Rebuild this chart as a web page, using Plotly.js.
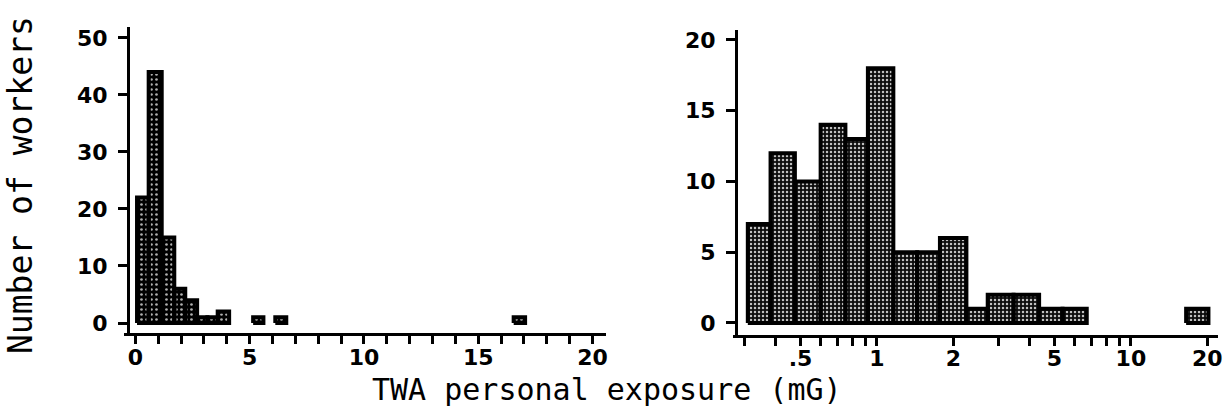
<!DOCTYPE html>
<html>
<head>
<meta charset="utf-8">
<script src="https://cdn.plot.ly/plotly-3.0.1.min.js"></script>
<style>html,body{margin:0;padding:0;background:#fff;}#chart{width:1225px;height:411px;}</style>
</head>
<body>
<div id="chart"></div>
<script>
// Left panel: linear exposure histogram (mG)
const leftBinStart = [0.07, 0.58, 1.15, 1.70, 2.18, 2.70, 3.15, 3.60, 5.15, 6.12, 16.55];
const leftBinEnd   = [0.58, 1.15, 1.70, 2.18, 2.70, 3.15, 3.60, 4.10, 5.60, 6.60, 17.05];
const leftCounts   = [22, 44, 15, 6, 4, 1, 1, 2, 1, 1, 1];

// Right panel: log-scale exposure histogram (mG)
const rightBinStart = [0.31, 0.381, 0.475, 0.600, 0.751, 0.921, 1.16, 1.44, 1.77, 2.25, 2.73, 3.45, 4.35, 5.38, 16.5];
const rightBinEnd   = [0.381, 0.475, 0.600, 0.751, 0.921, 1.16, 1.44, 1.77, 2.25, 2.73, 3.45, 4.35, 5.38, 6.70, 20.2];
const rightCounts   = [7, 12, 10, 14, 13, 18, 5, 5, 6, 1, 2, 2, 1, 1, 1];

// Tick labels
const leftXTickVals = [0,1,2,3,4,5,6,7,8,9,10,11,12,13,14,15,16,17,18,19,20];
const leftXTickText = ['0','','','','','5','','','','','10','','','','','15','','','','','20'];
const leftYTickVals = [0, 10, 20, 30, 40, 50];
const rightXTickVals = [0.3,0.4,0.5,0.6,0.7,0.8,0.9,1,2,3,4,5,6,7,8,9,10,20];
const rightXTickText = ['','','.5','','','','','1','2','','','5','','','','','10','20'];
const rightYTickVals = [0, 5, 10, 15, 20];

const yTitle = 'Number of workers';
const xTitle = 'TWA personal exposure (mG)';

function rects(starts, ends, counts) {
  const xs = [], ys = [];
  for (let i = 0; i < counts.length; i++) {
    xs.push(starts[i], starts[i], ends[i], ends[i], starts[i], null);
    ys.push(0, counts[i], counts[i], 0, 0, null);
  }
  return {x: xs, y: ys};
}

const L = rects(leftBinStart, leftBinEnd, leftCounts);
const R = rects(rightBinStart, rightBinEnd, rightCounts);

const traces = [
  {
    type: 'scatter', mode: 'lines', x: L.x, y: L.y, xaxis: 'x', yaxis: 'y',
    fill: 'toself', fillcolor: '#000',
    fillpattern: {shape: '.', bgcolor: '#000', fgcolor: '#b0b0b0', size: 5, solidity: 0.22},
    line: {color: '#000', width: 4}, hoverinfo: 'skip', showlegend: false
  },
  {
    type: 'scatter', mode: 'lines', x: R.x, y: R.y, xaxis: 'x2', yaxis: 'y2',
    fill: 'toself', fillcolor: '#111',
    fillpattern: {shape: '.', bgcolor: '#0c0c0c', fgcolor: '#c0c0c0', size: 4, solidity: 0.3},
    line: {color: '#000', width: 4}, hoverinfo: 'skip', showlegend: false
  }
];

const W = 1225, H = 411;
const tickFont = {family: 'DejaVu Sans', size: 22, color: '#000', weight: 'bold'};
const common = {showgrid: false, zeroline: false, showline: true, linecolor: '#000', linewidth: 3,
  ticks: 'outside', tickcolor: '#000', tickwidth: 3, tickfont: tickFont, fixedrange: true};

const layout = {
  width: W, height: H,
  margin: {l: 0, r: 0, t: 0, b: 0},
  paper_bgcolor: '#fff', plot_bgcolor: '#fff',
  showlegend: false,
  xaxis: Object.assign({}, common, {
    domain: [124 / W, 606 / W], range: [-0.5, 20.59], anchor: 'y',
    tickmode: 'array', tickvals: leftXTickVals, ticktext: leftXTickText, ticklen: 8,
    ticklabelstandoff: -5
  }),
  yaxis: Object.assign({}, common, {
    domain: [(H - 333) / H, (H - 27) / H], range: [-1.75, 51.9], anchor: 'free', position: 128 / W,
    tickmode: 'array', tickvals: leftYTickVals, ticklen: 9, ticklabelstandoff: 6
  }),
  xaxis2: Object.assign({}, common, {
    type: 'log', domain: [733 / W, 1218 / W], range: [-0.567, 1.343], anchor: 'y2',
    tickmode: 'array', tickvals: rightXTickVals, ticktext: rightXTickText, ticklen: 8,
    ticklabelstandoff: -6
  }),
  yaxis2: Object.assign({}, common, {
    domain: [(H - 335) / H, (H - 30) / H], range: [-0.85, 20.7], anchor: 'free', position: 736 / W,
    tickmode: 'array', tickvals: rightYTickVals, ticklen: 9, ticklabelstandoff: 6
  }),
  annotations: [
    {text: yTitle, xref: 'paper', yref: 'paper', x: 20 / W, y: (H - 185) / H,
     xanchor: 'center', yanchor: 'middle', textangle: -90, showarrow: false,
     font: {family: 'DejaVu Sans Mono', size: 33, color: '#000'}},
    {text: xTitle, xref: 'paper', yref: 'paper', x: 607 / W, y: (H - 389) / H,
     xanchor: 'center', yanchor: 'middle', showarrow: false,
     font: {family: 'DejaVu Sans Mono', size: 30, color: '#000'}}
  ]
};

Plotly.newPlot('chart', traces, layout, {staticPlot: true, displayModeBar: false});
</script>
</body>
</html>
